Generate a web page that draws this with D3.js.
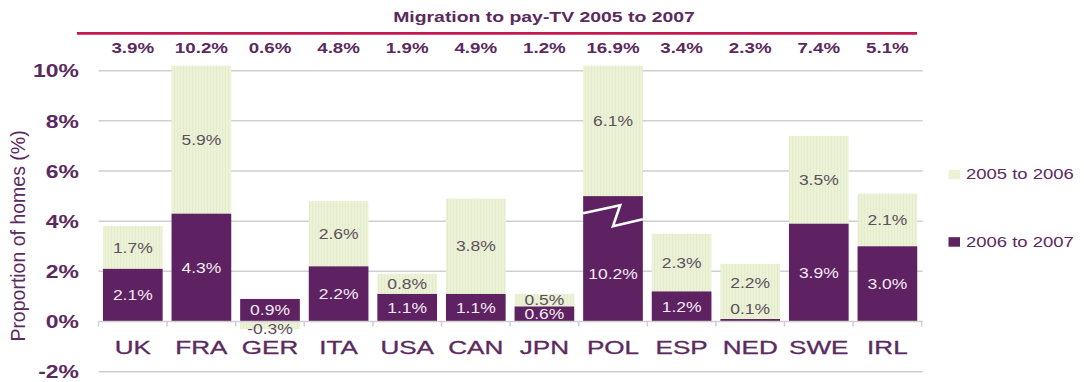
<!DOCTYPE html>
<html>
<head>
<meta charset="utf-8">
<script src="https://cdn.jsdelivr.net/npm/d3@7"></script>
<style>
  html, body { margin: 0; padding: 0; background: #ffffff; }
  svg { display: block; font-family: "Liberation Sans", Arial, sans-serif; }
</style>
</head>
<body>
<svg id="chart" width="1084" height="382"></svg>
<script>
// Pay-TV migration by country, split into two yearly periods
const categories = ["UK", "FRA", "GER", "ITA", "USA", "CAN", "JPN", "POL", "ESP", "NED", "SWE", "IRL"];
const period0607 = [2.1, 4.3, 0.9, 2.2, 1.1, 1.1, 0.6, 10.2, 1.2, 0.1, 3.9, 3.0];
const period0506 = [1.7, 5.9, -0.3, 2.6, 0.8, 3.8, 0.5, 6.1, 2.3, 2.2, 3.5, 2.1];
const totals = [3.9, 10.2, 0.6, 4.8, 1.9, 4.9, 1.2, 16.9, 3.4, 2.3, 7.4, 5.1];
const yTicks = [-2, 0, 2, 4, 6, 8, 10];
const seriesNames = ["2005 to 2006", "2006 to 2007"];
const titleText = "Migration to pay-TV 2005 to 2007";
const yTitle = "Proportion of homes (%)";
// The POL bar is too tall for the axis: its lower segment is cut off at this value
const brokenCategory = "POL";
const brokenShownAt = 5.0;
const axisCap = 10.2;

const DARK = "#5e2161";
const LIGHT = "#ecf2d6";
const TEXT = "#5b2a5e";
const GREY_TEXT = "#5c5060";
const GRID = "#cfcfcf";

const svg = d3.select("#chart");
const plot = { left: 98.5, right: 921.7, top: 70.7, bottom: 371.7 };

// Faint vertical texture of the light segments
const defs = svg.append("defs");
const pat = defs.append("pattern")
  .attr("id", "lightFill")
  .attr("patternUnits", "userSpaceOnUse")
  .attr("width", 3).attr("height", 10);
pat.append("rect").attr("width", 3).attr("height", 10).attr("fill", LIGHT);
pat.append("rect").attr("width", 1).attr("height", 10).attr("fill", "#e5ecce");

const x = d3.scaleBand()
  .domain(categories)
  .range([plot.left, plot.right])
  .paddingInner(0.13)
  .paddingOuter(0.065);

const y = d3.scaleLinear()
  .domain([-2, 10])
  .range([plot.bottom, plot.top]);

// Helper: horizontally widened text
function wideText(sel, sx) {
  return sel.attr("transform", d => `translate(${d.tx},${d.ty}) scale(${sx},1)`);
}

// Gridlines
svg.append("g")
  .selectAll("line")
  .data(yTicks.filter(t => t !== 0))
  .join("line")
  .attr("x1", plot.left)
  .attr("x2", plot.right + 1)
  .attr("y1", d => y(d))
  .attr("y2", d => y(d))
  .attr("stroke", GRID)
  .attr("stroke-width", 1.5);

// Y tick labels
svg.append("g")
  .selectAll("text")
  .data(yTicks.map(t => ({ t, tx: 79, ty: y(t) })))
  .join("text")
  .call(wideText, 1.24)
  .attr("text-anchor", "end")
  .attr("dy", "0.36em")
  .attr("font-size", 18.5)
  .attr("font-weight", "bold")
  .attr("fill", TEXT)
  .text(d => d.t + "%");

// Stacked segments per category
const rows = categories.map((c, i) => {
  const dark = period0607[i];
  const light = period0506[i];
  const broken = c === brokenCategory;
  const darkTop = broken ? brokenShownAt : dark;
  let lightFrom, lightTo;
  if (light >= 0) {
    lightFrom = Math.max(darkTop, 0);
    lightTo = Math.min(lightFrom + light, axisCap);
  } else {
    lightFrom = Math.min(darkTop, 0);
    lightTo = lightFrom + light;
  }
  return { c, i, dark, light, darkTop, lightFrom, lightTo, broken };
});

const bars = svg.append("g");

// 2005 to 2006 segments
bars.selectAll("rect.light")
  .data(rows)
  .join("rect")
  .attr("class", "light")
  .attr("x", d => x(d.c))
  .attr("width", x.bandwidth())
  .attr("y", d => y(Math.max(d.lightFrom, d.lightTo)))
  .attr("height", d => Math.abs(y(d.lightFrom) - y(d.lightTo)))
  .attr("fill", "url(#lightFill)");

// 2006 to 2007 segments
bars.selectAll("rect.dark")
  .data(rows)
  .join("rect")
  .attr("class", "dark")
  .attr("x", d => x(d.c))
  .attr("width", x.bandwidth())
  .attr("y", d => y(Math.max(0, d.darkTop)))
  .attr("height", d => Math.abs(y(0) - y(d.darkTop)))
  .attr("fill", DARK);

// Break marker on the cut-off bar
rows.filter(d => d.broken).forEach(d => {
  const bx = x(d.c), w = x.bandwidth();
  const yb = y(brokenShownAt - 0.8);
  const pts = [
    [bx, yb - 3],
    [bx + w * 0.62, yb - 11],
    [bx + w * 0.5, yb + 10],
    [bx + w, yb + 3]
  ];
  bars.append("path")
    .attr("d", d3.line()(pts))
    .attr("fill", "none")
    .attr("stroke", "#ffffff")
    .attr("stroke-width", 2.6);
});

// X axis line with boundary ticks
svg.append("line")
  .attr("x1", plot.left)
  .attr("x2", plot.right + 1)
  .attr("y1", y(0))
  .attr("y2", y(0))
  .attr("stroke", GRID)
  .attr("stroke-width", 1.5);

const boundaries = categories.map(c => x(c) - x.step() * x.paddingInner() / 2)
  .concat([plot.right]);
svg.append("g")
  .selectAll("line")
  .data(boundaries)
  .join("line")
  .attr("x1", d => d).attr("x2", d => d)
  .attr("y1", y(0)).attr("y2", y(0) + 5)
  .attr("stroke", GRID)
  .attr("stroke-width", 1.5);

// Category labels
svg.append("g")
  .selectAll("text")
  .data(categories.map(c => ({ c, tx: x(c) + x.bandwidth() / 2, ty: 353.5 })))
  .join("text")
  .call(wideText, 1.45)
  .attr("text-anchor", "middle")
  .attr("font-size", 18)
  .attr("fill", TEXT)
  .attr("stroke", TEXT)
  .attr("stroke-width", 0.3)
  .text(d => d.c);

// Segment value labels
const fmt = v => v.toFixed(1) + "%";
const labels = [];
rows.forEach(d => {
  const cx = x(d.c) + x.bandwidth() / 2;
  let darkY, darkFill = "#f3ecf3";
  if (d.broken) {
    darkY = y((brokenShownAt - 1.2) / 2);
  } else if (Math.abs(d.dark) < 0.3) {
    darkY = y(0) - 13;
    darkFill = GREY_TEXT;
  } else {
    darkY = y(d.darkTop / 2);
  }
  labels.push({ tx: cx, ty: darkY, fill: darkFill, v: d.dark });

  let lightY;
  if (d.light < 0) {
    lightY = y((d.lightFrom + d.lightTo) / 2) + 4;
  } else if (d.broken) {
    lightY = y((d.lightFrom + 0.8 + d.lightTo) / 2);
  } else if (Math.abs(d.dark) < 0.3) {
    lightY = (darkY - 7 + y(d.lightTo)) / 2;
  } else {
    lightY = y((d.lightFrom + d.lightTo) / 2);
  }
  labels.push({ tx: cx, ty: lightY, fill: GREY_TEXT, v: d.light });
});

svg.append("g")
  .selectAll("text")
  .data(labels)
  .join("text")
  .call(wideText, 1.25)
  .attr("text-anchor", "middle")
  .attr("dy", "0.36em")
  .attr("font-size", 14)
  .attr("fill", d => d.fill)
  .text(d => fmt(d.v));

// Title, rule and totals row
svg.append("text")
  .datum({ tx: 544, ty: 21.5 })
  .call(wideText, 1.26)
  .attr("text-anchor", "middle")
  .attr("font-size", 15.4)
  .attr("font-weight", "bold")
  .attr("fill", TEXT)
  .text(titleText);

svg.append("line")
  .attr("x1", 77).attr("x2", 917)
  .attr("y1", 33.3).attr("y2", 33.3)
  .attr("stroke", "#c4194f")
  .attr("stroke-width", 2.8);

svg.append("g")
  .selectAll("text")
  .data(categories.map((c, i) => ({ v: totals[i], tx: x(c) + x.bandwidth() / 2, ty: 52.5 })))
  .join("text")
  .call(wideText, 1.25)
  .attr("text-anchor", "middle")
  .attr("font-size", 15)
  .attr("font-weight", "bold")
  .attr("fill", TEXT)
  .text(d => fmt(d.v));

// Y axis title
svg.append("text")
  .attr("transform", `translate(25,236) scale(1.05,1) rotate(-90)`)
  .attr("text-anchor", "middle")
  .attr("font-size", 19.5)
  .attr("fill", TEXT)
  .text(yTitle);

// Legend
const legend = svg.append("g");
const legendItems = [
  { name: seriesNames[0], color: LIGHT, ty: 179.3 },
  { name: seriesNames[1], color: DARK, ty: 246.7 }
];
legendItems.forEach(it => {
  legend.append("rect")
    .attr("x", 948.5).attr("y", it.ty - 9.5)
    .attr("width", 11.5).attr("height", 9.5)
    .attr("fill", it.color);
  legend.append("text")
    .datum({ tx: 966, ty: it.ty })
    .call(wideText, 1.2)
    .attr("font-size", 15.4)
    .attr("fill", TEXT)
    .text(it.name);
});
</script>
</body>
</html>
